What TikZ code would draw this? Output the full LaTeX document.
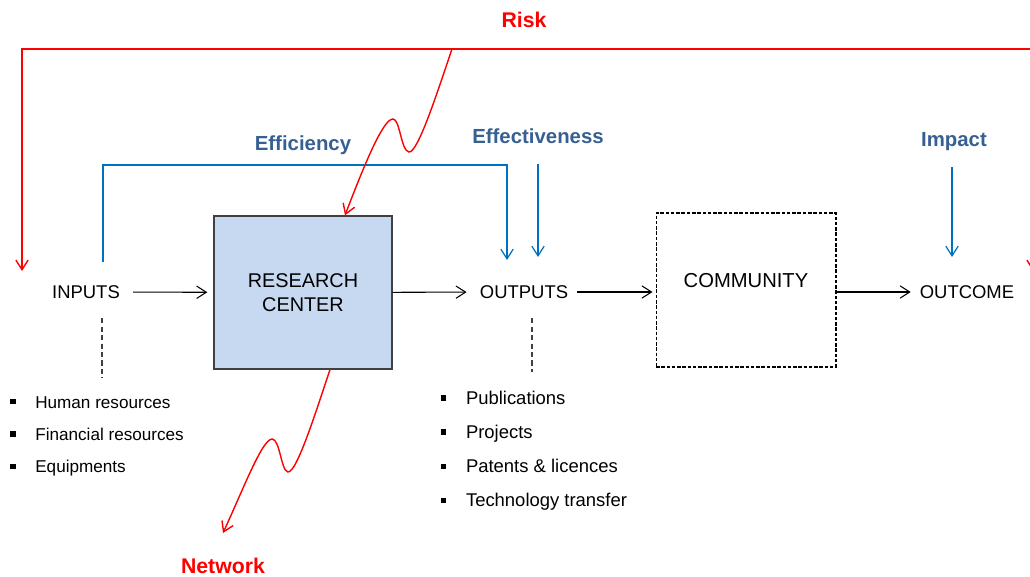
\documentclass[tikz,border=0pt]{standalone}
\usepackage{fontspec}
\setmainfont{Liberation Sans}
\usetikzlibrary{arrows.meta}
\definecolor{riskred}{HTML}{FF0000}
\definecolor{lblblue}{HTML}{376092}
\definecolor{lineblue}{HTML}{0070C0}
\definecolor{boxblue}{HTML}{C6D9F1}
\definecolor{boxline}{HTML}{404040}
\newcommand{\blt}{\rule[2.1pt]{3pt}{3pt}\hspace{11.2pt}}
\begin{document}
\begin{tikzpicture}[x=0.02cm, y=-0.02cm, >={Straight Barb[length=5.5pt,width=7pt]},
    lbl/.style={inner sep=0pt, font=\fontsize{10.5}{12}\selectfont},
    item/.style={inner sep=0pt, anchor=base west, font=\fontsize{9.75}{12}\selectfont},
    kpi/.style={inner sep=0pt, anchor=base, text=lblblue, font=\fontsize{11.6}{13}\selectfont\bfseries},
    riskl/.style={inner sep=0pt, anchor=base, text=riskred, font=\fontsize{12.1}{14}\selectfont\bfseries},
    flow/.style={->, line width=0.6pt},
    bline/.style={->, draw=lineblue, line width=0.7pt},
    rline/.style={draw=riskred, line width=0.8pt},
    dline/.style={draw=boxline, line width=0.6pt, dash pattern=on 3pt off 1.8pt}]
  \useasboundingbox (0,0) rectangle (1030,577);
  \clip (0,0) rectangle (1030,577);

  \node[lbl] (in) at (86,292) {INPUTS};
  \node[draw=boxline, line width=0.8pt, fill=boxblue, minimum width=3.56cm, minimum height=3.06cm,
        align=center, font=\fontsize{11.3}{13.9}\selectfont] (rc) at (303,292.5) {RESEARCH\\CENTER};
  \node[lbl] (out) at (524,292) {OUTPUTS};
  \node[draw, line width=0.6pt, dash pattern=on 2pt off 1pt, minimum width=3.6cm, minimum height=3.08cm] (com) at (746,290) {};
  \node[inner sep=0pt, anchor=base, font=\fontsize{11.5}{13}\selectfont] (comt) at (746,288) {COMMUNITY};
  \node[lbl] (oc) at (967,292) {OUTCOME};

  \draw[flow, shorten <=7.4pt, shorten >=3.4pt] (in) -- (rc);
  \draw[flow, shorten >=7.4pt] (rc) -- (out);
  \draw[flow, shorten <=5pt, shorten >=1.7pt] (out) -- (out -| com.west);
  \draw[flow, shorten >=5pt] (com.east |- oc) -- (oc);

  \node[kpi] (eff) at (303,151) {Efficiency};
  \node[kpi] (effv) at (538,144) {Effectiveness};
  \node[kpi] (imp) at (954,147) {Impact};
  \coordinate (ef0) at (103,262);
  \coordinate (ef1) at (507,260);
  \coordinate (ev1) at (538,257);
  \coordinate (im1) at (952,257);
  \draw[bline] (ef0) -- ++(0,-97) -| (ef1);
  \draw[bline, shorten <=11pt] (effv.south) -- (ev1);
  \draw[bline, shorten <=9pt] (imp.south -| im1) -- (im1);

  \node[riskl] (risk) at (524,28) {Risk};
  \node[riskl] (net) at (223,573) {Network};
  \coordinate (rl) at (22,271);
  \coordinate (rk) at (452,49);
  \coordinate (rr) at (1033,271);
  \coordinate (nw1) at (223,533);
  \draw[rline, <->] (rl) |- (rk) -| (rr);
  \draw[rline, ->] (rk) .. controls (438,90) and (418,153) .. (409,152)
        .. controls (401,151) and (400,119) .. (393,119)
        .. controls (384,119) and (368,155) .. ([xshift=0.84cm]rc.north);
  \draw[rline, ->] ([xshift=0.54cm]rc.south) .. controls (318,405) and (297,473) .. (288,472)
        .. controls (281,471) and (280,439) .. (272,439)
        .. controls (262,440) and (245,485) .. (nw1);

  \coordinate (d1) at (102,378);
  \coordinate (d2) at (532,372);
  \draw[dline, shorten <=11pt] (in.south -| d1) -- (d1);
  \draw[dline, shorten <=11pt] (out.south -| d2) -- (d2);

  \foreach \t [count=\i] in {Human resources, Financial resources, Equipments}
    \node[item] (ii\i) at (10,375.7+32.3*\i) {\blt\t};
  \foreach \t [count=\i] in {Publications, Projects, Patents \& licences, Technology transfer}
    \node[item, font=\fontsize{10.5}{12}\selectfont] (oo\i) at (440.7,370.2+34.1*\i) {\blt\t};
\end{tikzpicture}
\end{document}
